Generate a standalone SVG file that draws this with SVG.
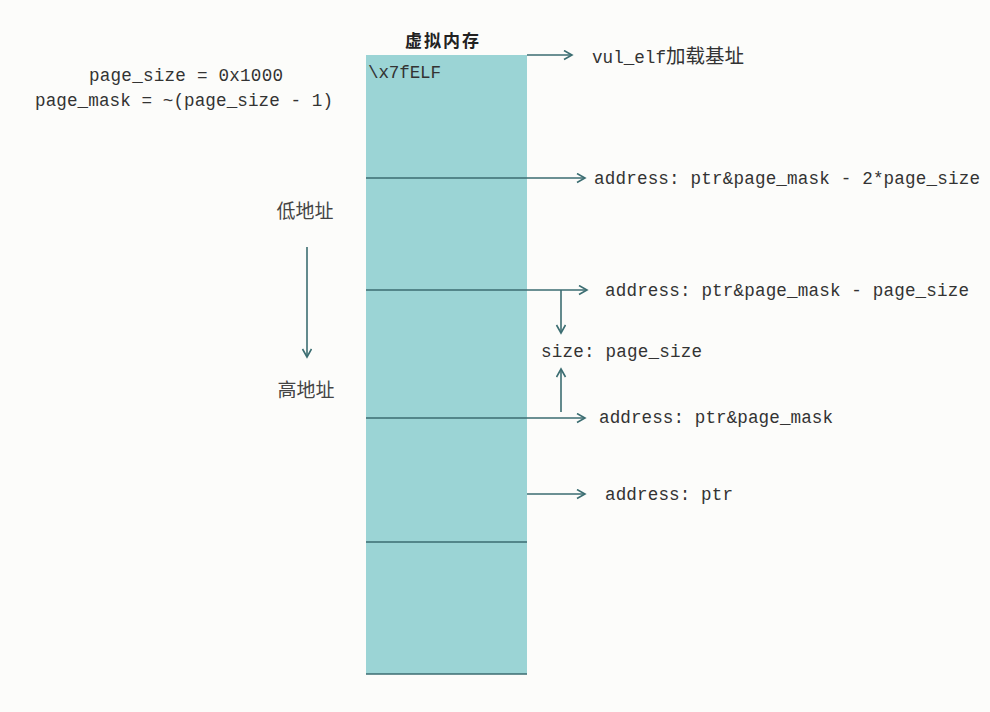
<svg xmlns="http://www.w3.org/2000/svg" width="990" height="712" viewBox="0 0 990 712">
<style>
.ln{stroke:#3b6d71;stroke-width:1.6;fill:none}
.ar{stroke:#3b6d71;stroke-width:1.6;fill:none;marker-end:url(#ah)}
.t{font-family:"Liberation Mono","Noto Sans CJK SC",monospace;font-size:17.6px;fill:#333}
.c{font-family:"Noto Sans CJK SC",sans-serif;font-size:19px;fill:#444}
</style>
<defs>
<marker id="ah" markerWidth="12" markerHeight="12" refX="9" refY="5" orient="auto" markerUnits="userSpaceOnUse">
<path d="M1,0.5 L9,5 L1,9.5" fill="none" stroke="#3b6d71" stroke-width="1.6"/>
</marker>
</defs>
<rect x="0" y="0" width="990" height="712" fill="#fcfcfa"/>
<g id="memory">
<rect x="366" y="55" width="161" height="619" fill="#9bd4d5"/>
<text x="443" y="47" text-anchor="middle" style="font-family:'Noto Sans CJK SC',sans-serif;font-size:17px;font-weight:bold;fill:#222;letter-spacing:2px">虚拟内存</text>
<text class="t" x="368" y="78" textLength="73">\x7fELF</text>
</g>
<g id="connectors">
<line class="ar" x1="527" y1="55" x2="572" y2="55"/>
<line class="ar" x1="366" y1="178" x2="585" y2="178"/>
<line class="ar" x1="366" y1="290" x2="587" y2="290"/>
<line class="ar" x1="366" y1="418" x2="585" y2="418"/>
<line class="ar" x1="527" y1="494" x2="585" y2="494"/>
<line class="ln" x1="366" y1="542" x2="527" y2="542"/>
<line class="ln" x1="366" y1="674" x2="527" y2="674"/>
<line class="ar" x1="561" y1="290" x2="561" y2="333"/>
<line class="ar" x1="561" y1="412" x2="561" y2="369"/>
<line class="ar" x1="307" y1="247" x2="307" y2="357"/>
</g>
<g id="defs-text">
<text class="t" x="89" y="81" textLength="194">page_size = 0x1000</text>
<text class="t" x="35" y="106" textLength="298">page_mask = ~(page_size - 1)</text>
</g>
<g id="labels">
<text class="t" x="592" y="63"><tspan textLength="74">vul_elf</tspan><tspan style="font-family:'Noto Sans CJK SC',sans-serif;font-size:19.5px">加载基址</tspan></text>
<text class="t" x="594" y="184" textLength="386">address: ptr&amp;page_mask - 2*page_size</text>
<text class="t" x="605" y="296" textLength="364">address: ptr&amp;page_mask - page_size</text>
<text class="t" x="541" y="357" textLength="161">size: page_size</text>
<text class="t" x="599" y="423" textLength="234">address: ptr&amp;page_mask</text>
<text class="t" x="605" y="500" textLength="128">address: ptr</text>
</g>
<g id="direction">
<text class="c" x="305" y="218" text-anchor="middle">低地址</text>
<text class="c" x="306" y="397" text-anchor="middle">高地址</text>
</g>
</svg>
